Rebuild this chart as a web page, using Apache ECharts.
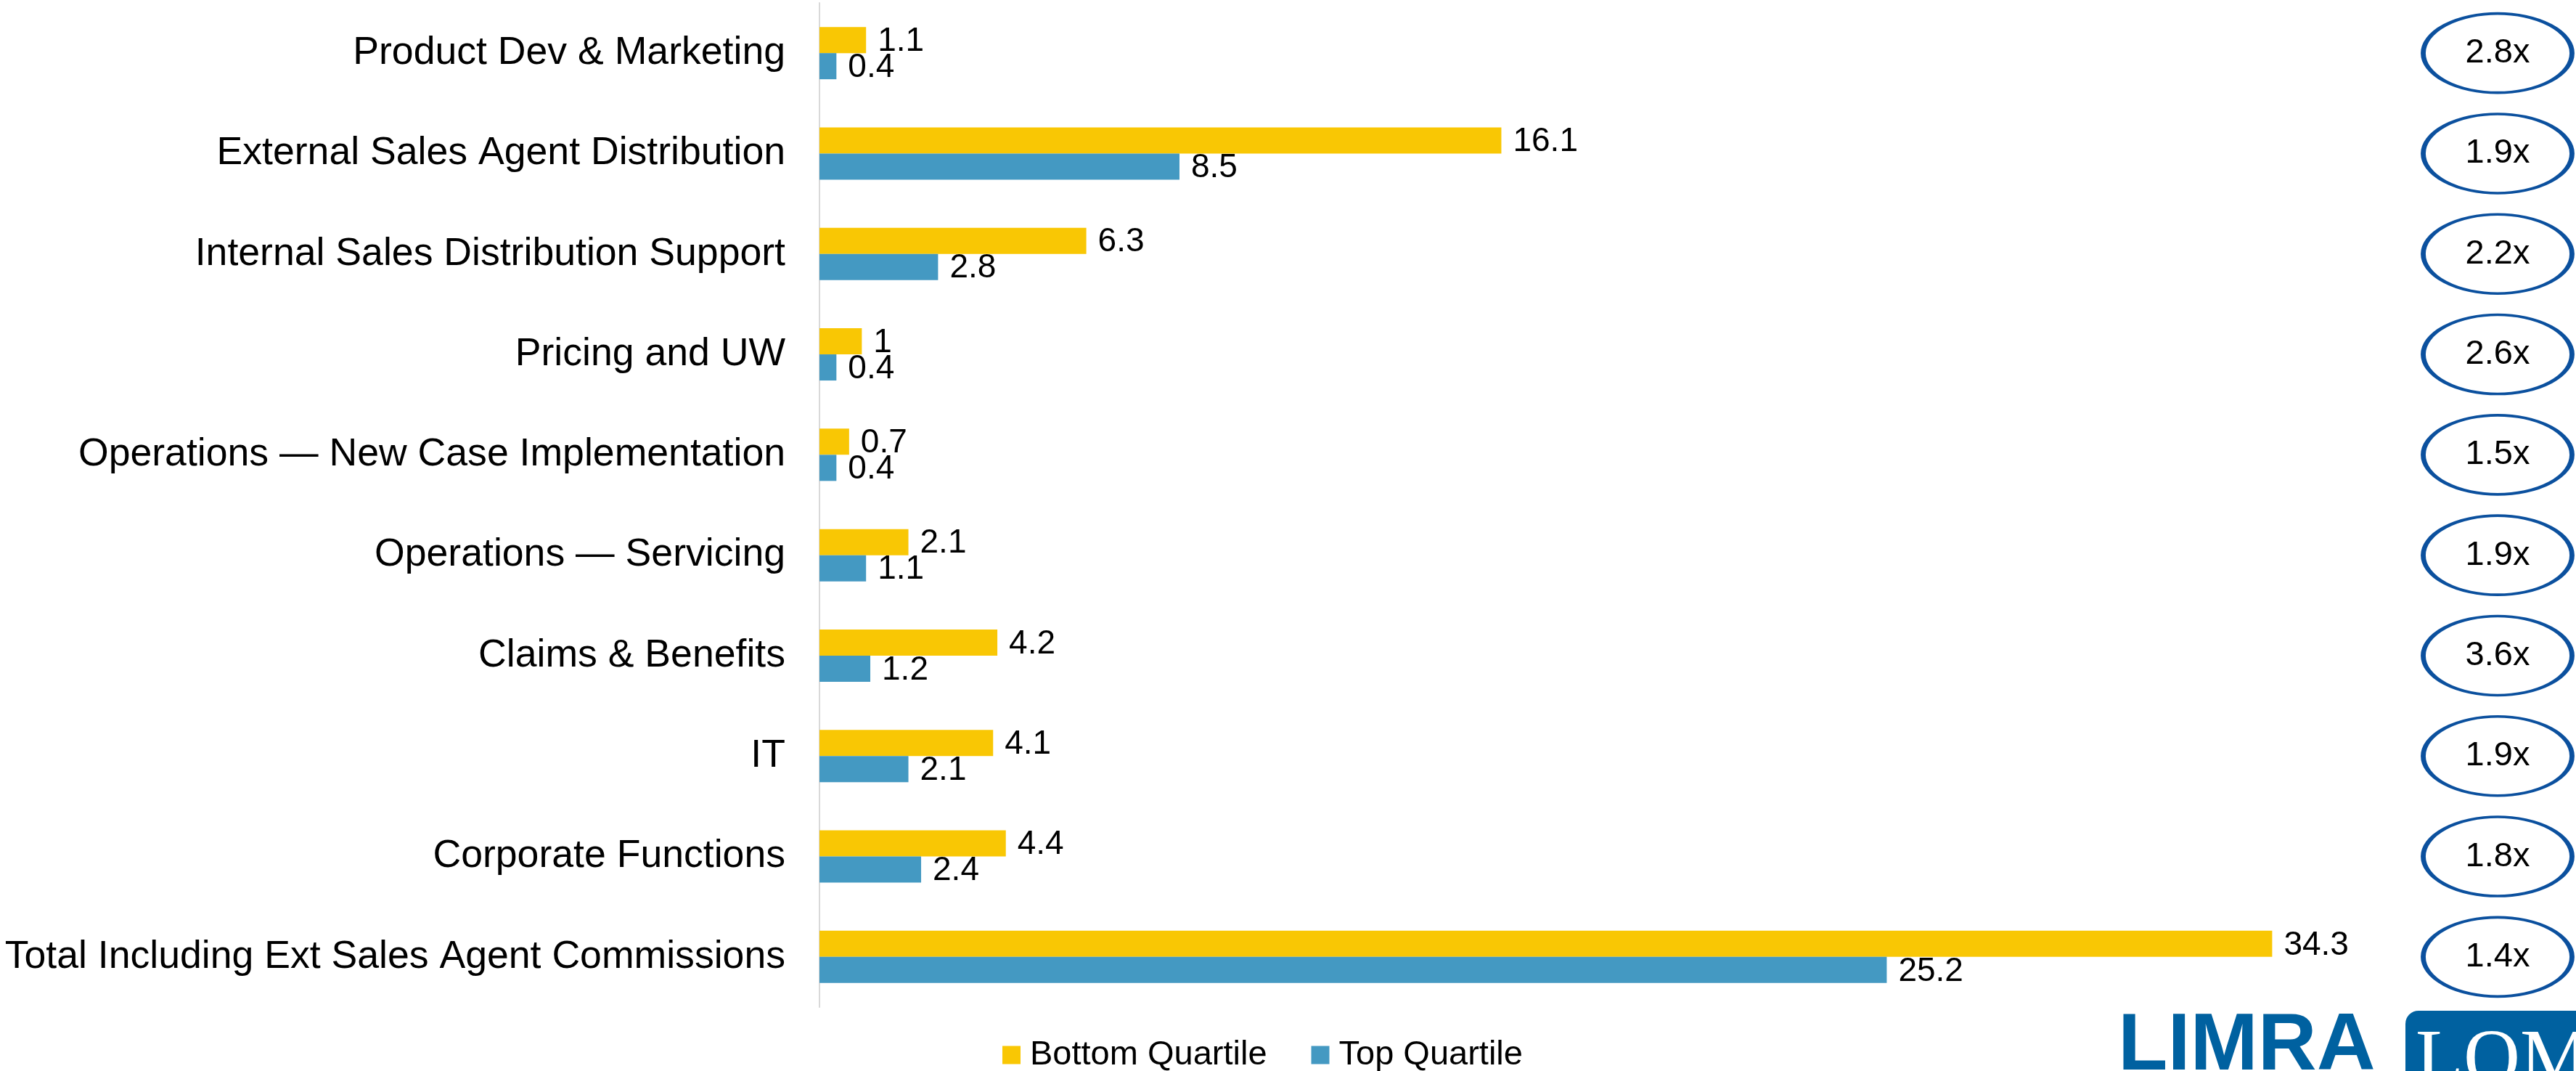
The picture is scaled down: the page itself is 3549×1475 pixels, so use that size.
<!DOCTYPE html>
<html><head><meta charset="utf-8">
<script src="https://cdn.jsdelivr.net/npm/echarts@6/dist/echarts.min.js"></script>
<style>html,body{margin:0;padding:0;background:#fff}#c{width:3549px;height:1475px}</style>
</head><body><div id="c"></div>
<script>
const categories = [
  'Product Dev & Marketing',
  'External Sales Agent Distribution',
  'Internal Sales Distribution Support',
  'Pricing and UW',
  'Operations \u2014 New Case Implementation',
  'Operations \u2014 Servicing',
  'Claims & Benefits',
  'IT',
  'Corporate Functions',
  'Total Including Ext Sales Agent Commissions'
];
const bottomQuartile = [1.1, 16.1, 6.3, 1, 0.7, 2.1, 4.2, 4.1, 4.4, 34.3];
const topQuartile = [0.4, 8.5, 2.8, 0.4, 0.4, 1.1, 1.2, 2.1, 2.4, 25.2];
const ratios = ['2.8x', '1.9x', '2.2x', '2.6x', '1.5x', '1.9x', '3.6x', '1.9x', '1.8x', '1.4x'];
const seriesNames = ['Bottom Quartile', 'Top Quartile'];

const FONT = '"Liberation Sans", Arial, sans-serif';
const chart = echarts.init(document.getElementById('c'), null, {renderer: 'canvas'});
const valueLabel = {
  show: true, position: 'right', distance: 16, offset: [0, 2],
  color: '#000', fontSize: 46, fontFamily: FONT
};
chart.setOption({
  animation: false,
  backgroundColor: '#fff',
  grid: [
    {left: 1129, top: 4, bottom: 88, width: 2334, containLabel: false},
    {left: 3336, top: 4, bottom: 88, width: 210, containLabel: false}
  ],
  xAxis: [
    {type: 'value', gridIndex: 0, min: 0, max: 40, show: false},
    {type: 'value', gridIndex: 1, min: 0, max: 2, show: false}
  ],
  yAxis: [
    {
      type: 'category', gridIndex: 0, data: categories, inverse: true,
      axisLine: {show: true, lineStyle: {color: '#d9d9d9', width: 2}},
      axisTick: {show: false},
      axisLabel: {margin: 47, color: '#000', fontSize: 53.6, fontFamily: FONT}
    },
    {type: 'category', gridIndex: 1, data: categories, inverse: true, show: false}
  ],
  legend: {
    data: seriesNames,
    left: 1376, top: 1423,
    icon: 'rect', itemWidth: 25, itemHeight: 25, itemGap: 61,
    textStyle: {fontSize: 47, fontFamily: FONT, color: '#000', padding: [0, 0, 0, 8], lineHeight: 50}
  },
  series: [
    {
      name: seriesNames[0], type: 'bar', xAxisIndex: 0, yAxisIndex: 0,
      data: bottomQuartile, barWidth: 36, barGap: '0%',
      itemStyle: {color: '#F9C704'}, label: valueLabel
    },
    {
      name: seriesNames[1], type: 'bar', xAxisIndex: 0, yAxisIndex: 0,
      data: topQuartile, barWidth: 36, barGap: '0%',
      itemStyle: {color: '#4499C2'}, label: valueLabel
    },
    {
      type: 'scatter', xAxisIndex: 1, yAxisIndex: 1, silent: true,
      data: ratios.map((r, i) => [1, i, r]),
      symbol: 'path://M0,50A50,50,0,1,1,100,50A50,50,0,1,1,0,50Z',
      symbolSize: [205, 109],
      itemStyle: {color: '#fff', borderColor: '#0B509E', borderWidth: 5, opacity: 1},
      label: {
        show: true, position: 'inside', color: '#000', fontSize: 47, fontFamily: FONT,
        formatter: p => p.value[2]
      }
    }
  ],
  graphic: [
    {
      type: 'text', left: 2918, top: 1386, silent: true,
      style: {text: 'LIMRA', fill: '#0061A0', font: 'bold 112px "Liberation Sans", Arial, sans-serif'}
    },
    {
      type: 'rect', left: 3314, top: 1392, silent: true,
      shape: {width: 260, height: 120, r: [18, 0, 0, 0]},
      style: {fill: '#0061A0'}
    },
    {
      type: 'text', left: 3328, top: 1410, silent: true,
      style: {text: 'LOMA', fill: '#fff', font: '108px "Liberation Serif", "Times New Roman", serif'}
    }
  ]
});
</script></body></html>
